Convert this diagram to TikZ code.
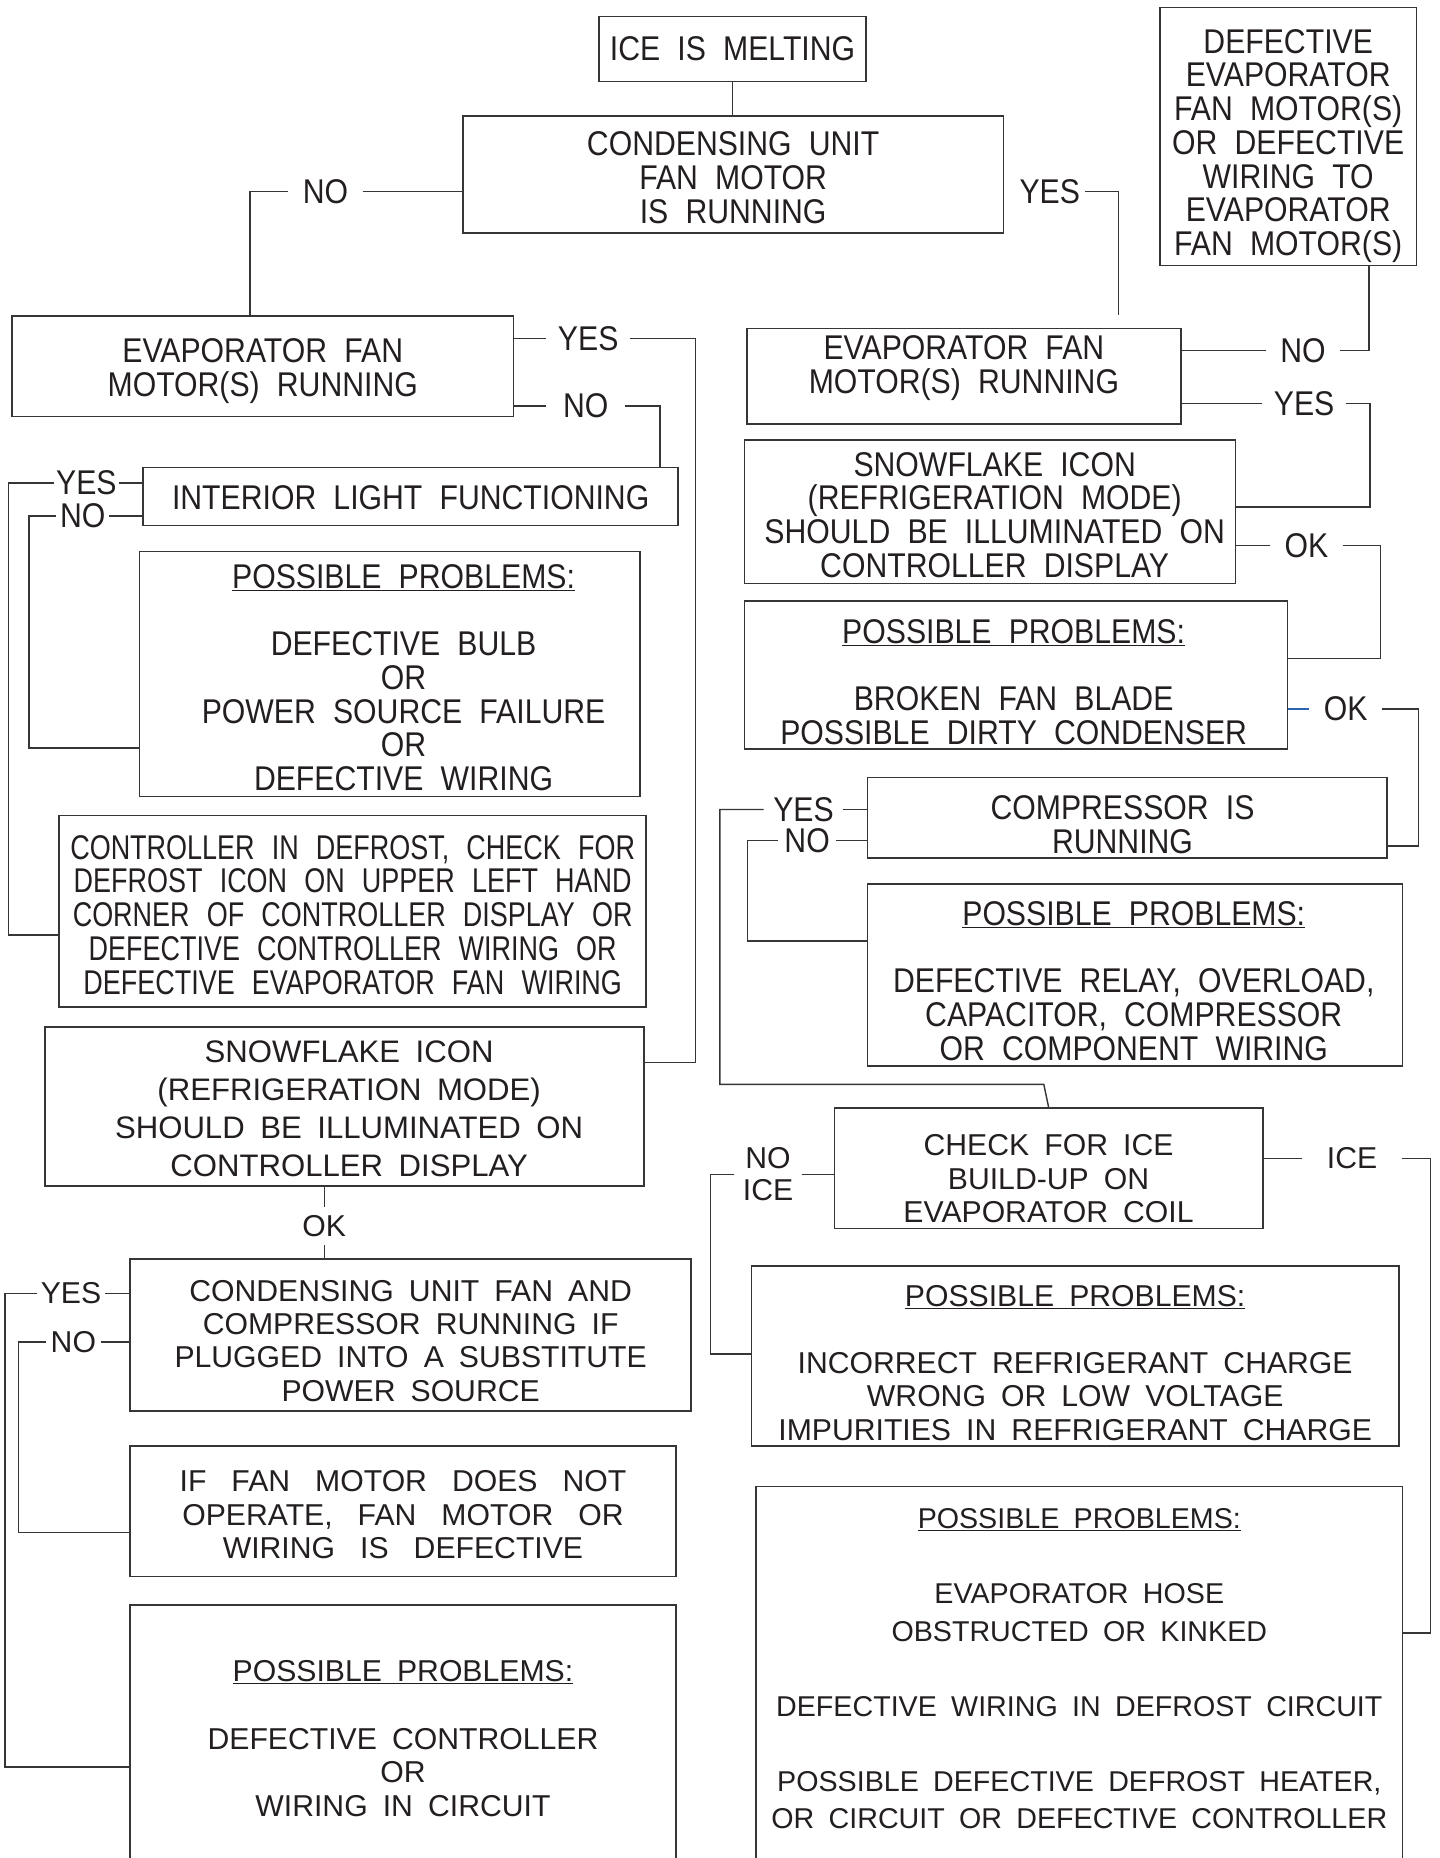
\documentclass[tikz,border=0pt]{standalone}
\usepackage{fontspec}
\setmainfont{Liberation Sans}
\newfontfamily\condf[FakeStretch=0.88]{Liberation Sans}
\newfontfamily\condg[FakeStretch=0.786]{Liberation Sans}
\usetikzlibrary{calc}
\definecolor{ink}{HTML}{231F20}
\definecolor{linec}{HTML}{363636}
\definecolor{okblue}{HTML}{2A64B0}
\newcommand\uf{\condf\fontsize{29}{28.5}\selectfont\spaceskip=0.5em\relax}
\newcommand\lf{\fontsize{25.5}{28.3}\selectfont\spaceskip=0.5em\relax}
\begin{document}
\begin{tikzpicture}[x=1pt,y=-1pt,
  box/.style={draw=linec, line width=1.4pt, inner sep=0pt},
  ut/.style={align=center, inner sep=0pt, text=ink, font=\uf},
  lt/.style={align=center, inner sep=0pt, text=ink, font=\lf},
  lbl/.style={inner xsep=#1, inner ysep=0pt, text=ink, font=\uf},
  lbl/.default=11pt,
  llbl/.style={inner xsep=#1, inner ysep=0pt, text=ink, font=\lf},
  llbl/.default=11pt,
  conn/.style={draw=linec, line width=1.2pt}
]
\useasboundingbox (0,0) rectangle (1216,1570);
\fill[white] (0,0) rectangle (1216,1570);
\clip (0,0) rectangle (1216,1570);

% ---------- boxes ----------
\node[box, minimum width=226, minimum height=55] (ice) at (619,41.5) {};
\node[ut] (iceT) at ($(ice.center)+(0,0)$) {ICE IS MELTING};
\node[box, minimum width=457, minimum height=99] (cond) at (619.5,147.5) {};
\node[ut] (condT) at ($(cond.center)+(0,2.5)$) {CONDENSING UNIT\\FAN MOTOR\\IS RUNNING};
\node[box, minimum width=217, minimum height=218] (defev) at (1088.5,115.3) {};
\node[ut] (defevT) at ($(defev.center)+(0,8)$) {DEFECTIVE\\EVAPORATOR\\FAN MOTOR(S)\\OR DEFECTIVE\\WIRING TO\\EVAPORATOR\\FAN MOTOR(S)};
\node[box, minimum width=424, minimum height=85] (evL) at (222,309.5) {};
\node[ut] (evLT) at ($(evL.center)+(0,4)$) {EVAPORATOR FAN\\MOTOR(S) RUNNING};
\node[box, minimum width=367, minimum height=81] (evR) at (814.5,318) {};
\node[ut] (evRT) at ($(evR.center)+(0,-7)$) {EVAPORATOR FAN\\MOTOR(S) RUNNING};
\node[box, minimum width=452, minimum height=49] (intl) at (347,419.5) {};
\node[ut] (intlT) at ($(intl.center)+(0,1)$) {INTERIOR LIGHT FUNCTIONING};
\node[box, minimum width=423, minimum height=207] (ppLa) at (329.5,569.5) {};
\node[ut] (ppLaT) at ($(ppLa.center)+(11.5,3)$) {\underline{POSSIBLE PROBLEMS:}\\[28.5pt]DEFECTIVE BULB\\OR\\POWER SOURCE FAILURE\\OR\\DEFECTIVE WIRING};
\node[box, minimum width=496, minimum height=162] (ctrl) at (298,770) {};
\node[ut, font={\condg\fontsize{29}{28.5}\selectfont\spaceskip=0.5em\relax}] (ctrlT) at ($(ctrl.center)+(0,3)$) {CONTROLLER IN DEFROST, CHECK FOR\\DEFROST ICON ON UPPER LEFT HAND\\CORNER OF CONTROLLER DISPLAY OR\\DEFECTIVE CONTROLLER WIRING OR\\DEFECTIVE EVAPORATOR FAN WIRING};
\node[box, minimum width=506, minimum height=134] (snowL) at (291,935) {};
\node[lt, font={\fontsize{26.3}{32.3}\selectfont\spaceskip=0.5em\relax}] (snowLT) at ($(snowL.center)+(4,2)$) {SNOWFLAKE ICON\\(REFRIGERATION MODE)\\SHOULD BE ILLUMINATED ON\\CONTROLLER DISPLAY};
\node[box, minimum width=415, minimum height=121] (snowR) at (836.5,432.5) {};
\node[ut] (snowRT) at ($(snowR.center)+(4,2.5)$) {SNOWFLAKE ICON\\(REFRIGERATION MODE)\\SHOULD BE ILLUMINATED ON\\CONTROLLER DISPLAY};
\node[box, minimum width=459, minimum height=125] (ppRa) at (858.5,570.5) {};
\node[ut] (ppRaT) at ($(ppRa.center)+(-2,6)$) {\underline{POSSIBLE PROBLEMS:}\\[28.5pt]BROKEN FAN BLADE\\POSSIBLE DIRTY CONDENSER};
\node[box, minimum width=439, minimum height=68] (comp) at (952.5,691) {};
\node[ut] (compT) at ($(comp.center)+(-4,6)$) {COMPRESSOR IS\\RUNNING};
\node[box, minimum width=452, minimum height=154] (ppRb) at (959,824) {};
\node[ut] (ppRbT) at ($(ppRb.center)+(-1,5)$) {\underline{POSSIBLE PROBLEMS:}\\[28.5pt]DEFECTIVE RELAY, OVERLOAD,\\CAPACITOR, COMPRESSOR\\OR COMPONENT WIRING};
\node[box, minimum width=362, minimum height=102] (chk) at (886,987) {};
\node[lt] (chkT) at ($(chk.center)+(0,9)$) {CHECK FOR ICE\\BUILD-UP ON\\EVAPORATOR COIL};
\node[box, minimum width=474, minimum height=128] (cfan) at (347,1128) {};
\node[lt] (cfanT) at ($(cfan.center)+(0,5)$) {CONDENSING UNIT FAN AND\\COMPRESSOR RUNNING IF\\PLUGGED INTO A SUBSTITUTE\\POWER SOURCE};
\node[box, minimum width=461, minimum height=110] (iffan) at (340.5,1277) {};
\node[lt, font={\lf\spaceskip=0.83em\relax}] (iffanT) at ($(iffan.center)+(0,3)$) {IF FAN MOTOR DOES NOT\\OPERATE, FAN MOTOR OR\\WIRING IS DEFECTIVE};
\node[box, minimum width=461, minimum height=219] (ppLb) at (340.5,1465.5) {};
\node[lt] (ppLbT) at ($(ppLb.center)+(0,3.5)$) {\underline{POSSIBLE PROBLEMS:}\\[29pt]DEFECTIVE CONTROLLER\\OR\\WIRING IN CIRCUIT};
\node[box, minimum width=547, minimum height=152] (ppRc) at (908.5,1146) {};
\node[lt] (ppRcT) at ($(ppRc.center)+(0,5.5)$) {\underline{POSSIBLE PROBLEMS:}\\[28.5pt]INCORRECT REFRIGERANT CHARGE\\WRONG OR LOW VOLTAGE\\IMPURITIES IN REFRIGERANT CHARGE};
\node[box, minimum width=546, minimum height=319] (ppRd) at (912,1415.5) {};
\node[lt, font={\fontsize{24.2}{31.7}\selectfont\spaceskip=0.5em\relax}] (ppRdT) at ($(ppRd.center)+(0,-5.5)$) {\underline{POSSIBLE PROBLEMS:}\\[32pt]EVAPORATOR HOSE\\OBSTRUCTED OR KINKED\\[31.5pt]DEFECTIVE WIRING IN DEFROST CIRCUIT\\[31.5pt]POSSIBLE DEFECTIVE DEFROST HEATER,\\OR CIRCUIT OR DEFECTIVE CONTROLLER};

% ---------- labels ----------
\node[lbl=12pt] (noA) at (275,162) {NO};
\node[lbl=4pt] (yesA) at (887,162) {YES};
\node[lbl=12pt] (noB) at (1101,296) {NO};
\node[lbl=10pt] (yesB) at (1102,341) {YES};
\node[lbl=12pt] (okA) at (1104,461) {OK};
\node[lbl=12pt] (okB) at (1137,599) {OK};
\node[lbl=8pt] (yesC) at (679,684) {YES};
\node[lbl=5pt] (noC) at (682,710) {NO};
\node[llbl=7pt, align=center, font={\lf\baselineskip=27pt}] (noice) at (649,992.5) {NO\\ICE};
\node[llbl=21pt] (iceL) at (1142.5,979) {ICE};
\node[lbl=10pt] (yesD) at (497,286) {YES};
\node[lbl=14pt] (noD) at (495,343) {NO};
\node[lbl=2pt] (yesE) at (73,408) {YES};
\node[lbl=3pt] (noE) at (70,436) {NO};
\node[llbl=0pt, inner ysep=7pt] (okC) at (274,1036) {OK};
\node[llbl=3pt] (yesF) at (60,1093) {YES};
\node[llbl=4pt] (noF) at (62,1134) {NO};
\coordinate (yesAend) at (945,266);

% ---------- connectors ----------
\draw[conn] (ice.south) -- (ice.south |- cond.north);
\draw[conn] (noA.east) -- (noA.east -| cond.west);
\draw[conn] (noA.west) -| ($(evL.north west)+(202,0)$);
\draw[conn] (yesA.east) -| (yesAend);
\draw[conn] ($(defev.south east)+(-41,0)$) |- (noB.east);
\draw[conn] (noB.west) -- (noB.west -| evR.east);
\draw[conn] (yesB.west) -- (yesB.west -| evR.east);
\draw[conn] (yesB.east) -- ++(20,0) |- ($(snowR.east)+(0,-4)$);
\draw[conn] (okA.west) -- (okA.west -| snowR.east);
\draw[conn] (okA.east) -- ++(32,0) |- ($(ppRa.east)+(0,-14)$);
\draw[conn, draw=okblue] (okB.west) -- (okB.west -| ppRa.east);
\draw[conn] (okB.east) -- ++(31,0) |- ($(comp.east)+(0,24)$);
\draw[conn] (yesC.east) -- (yesC.east -| comp.west);
\draw[conn] (yesC.west) -- ++(-37,0) |- ($(chk.north)+(-4,-19)$) -- (chk.north);
\draw[conn] (noC.east) -- (noC.east -| comp.west);
\draw[conn] (noC.west) -- ++(-26,0) |- ($(ppRb.west)+(0,-29)$);
\draw[conn] (noice.east) -- (noice.east -| chk.west);
\draw[conn] (noice.west) -- ++(-20,0) |- ($(ppRc.west)+(0,-2)$);
\draw[conn] (iceL.west) -- (iceL.west -| chk.east);
\draw[conn] (iceL.east) -- ++(24,0) |- ($(ppRd.east)+(0,-35.5)$);
\draw[conn] (yesD.west) -- (yesD.west -| evL.east);
\draw[conn] (yesD.east) -- ++(55,0) |- ($(snowL.east)+(0,-37)$);
\draw[conn] (noD.west) -- (noD.west -| evL.east);
\draw[conn] (noD.east) -| ($(intl.north east)+(-16,0)$);
\draw[conn] (yesE.east) -- (yesE.east -| intl.west);
\draw[conn] (yesE.west) -- ++(-38,0) |- ($(ctrl.west)+(0,20)$);
\draw[conn] (noE.east) -- (noE.east -| intl.west);
\draw[conn] (noE.west) -- ++(-23,0) |- ($(ppLa.west)+(0,62.5)$);
\draw[conn] (okC.north) -- (okC.north |- snowL.south);
\draw[conn] (okC.south) -- (okC.south |- cfan.north);
\draw[conn] (yesF.east) -- (yesF.east -| cfan.west);
\draw[conn] (yesF.west) -- ++(-27,0) |- ($(ppLb.west)+(0,27.5)$);
\draw[conn] (noF.east) -- (noF.east -| cfan.west);
\draw[conn] (noF.west) -- ++(-23,0) |- ($(iffan.west)+(0,18)$);
\end{tikzpicture}
\end{document}
